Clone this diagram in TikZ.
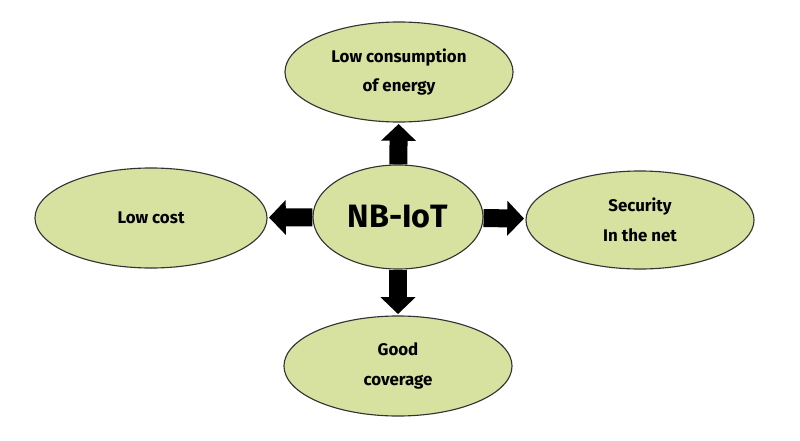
\documentclass[tikz,border=0pt]{standalone}
\usepackage{fontspec}
\setmainfont{Fira Sans}
\usetikzlibrary{shapes.geometric,arrows.meta}
\definecolor{leafgreen}{RGB}{215,226,160}

\begin{document}
\begin{tikzpicture}[x=0.025cm, y=-0.025cm]

    % 公共样式
    \tikzset{
      feature/.style={ellipse, draw=black!80, line width=0.8pt, fill=leafgreen,
        minimum width=5.7cm, minimum height=2.5cm, align=center, font=\fontsize{12}{21}\selectfont\bfseries},
      blockarrow/.style={draw=black, line width=0.45cm, -{Triangle[width=0.85cm,length=0.42cm]}, shorten >=1pt}
    }
    \useasboundingbox (0,0) rectangle (800,440);

    % 中心节点
    \node[feature, minimum width=4.25cm, minimum height=2.6cm, font=\fontsize{23}{26}\selectfont\bfseries] (nb) at (398,217) {NB-IoT};

    % 四周节点
    \node[feature] (energy) at (399,72) {Low consumption\\of energy};
    \node[feature, minimum width=5.8cm] (cost) at (151,218) {Low cost};
    \node[feature, minimum height=2.45cm] (sec) at (640,220) {Security\\In the net};
    \node[feature] (cover) at (398,366) {Good\\coverage};

    % 连接中心到四周
    \foreach \t in {energy,cost,sec,cover} {
      \draw[blockarrow] (nb) -- (\t);
    }

\end{tikzpicture}
\end{document}
